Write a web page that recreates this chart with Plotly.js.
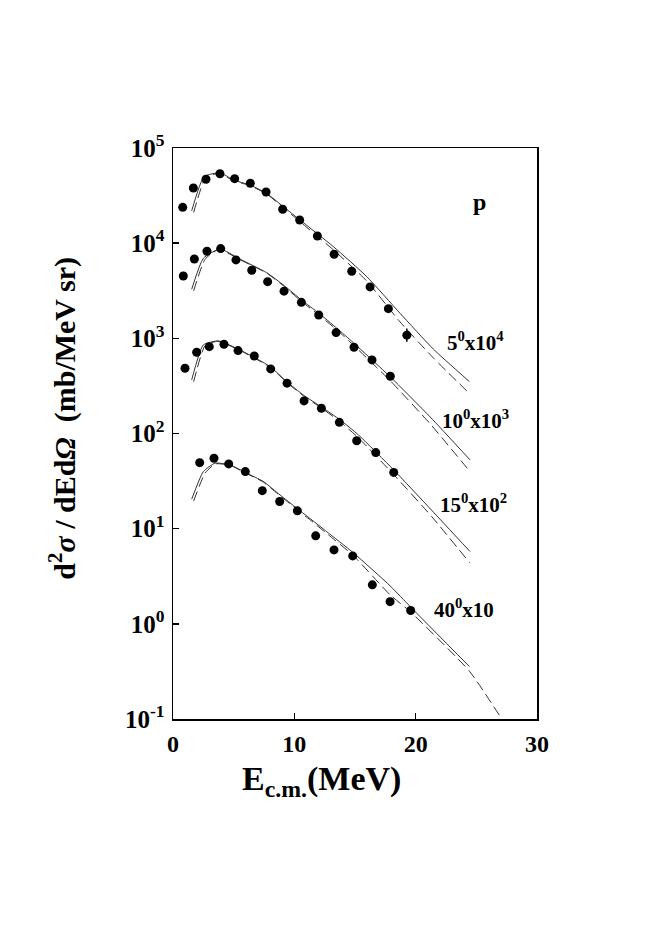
<!DOCTYPE html>
<html>
<head>
<meta charset="utf-8">
<script src="https://cdn.plot.ly/plotly-3.0.1.min.js"></script>
<style>
  html, body { margin: 0; padding: 0; background: #fff; }
  #chart { width: 654px; height: 941px; }
</style>
</head>
<body>
<div id="chart"></div>
<script>
// proton spectra, measured points (scaled per angle) and two model curves each

const E5 = [0.80, 1.68, 2.72, 3.87, 5.08, 6.37, 7.67, 9.04, 10.44, 11.90, 13.28, 14.73, 16.24, 17.75, 19.27];
const Y5 = [23800, 38000, 46900, 53700, 47600, 42600, 34500, 22700, 17500, 11900, 7640, 5070, 3470, 2050, 1080];
const ERR5_UP = [0, 0, 0, 0, 0, 0, 0, 0, 0, 0, 0, 0, 0, 0, 190];
const ERR5_DN = [0, 0, 0, 0, 0, 0, 0, 0, 0, 0, 0, 0, 0, 0, 160];

const E10 = [0.85, 1.76, 2.80, 3.93, 5.19, 6.49, 7.80, 9.15, 10.58, 12.01, 13.44, 14.92, 16.40, 17.91];
const Y10 = [4520, 6820, 8220, 8770, 6670, 5190, 3940, 3130, 2390, 1760, 1150, 805, 593, 400];

const E15 = [0.99, 1.95, 2.99, 4.20, 5.36, 6.70, 8.05, 9.40, 10.80, 12.23, 13.71, 15.14, 16.71, 18.19];
const Y15 = [485, 714, 818, 866, 743, 653, 477, 338, 220, 184, 131, 84, 63, 39];

const E40 = [2.20, 3.38, 4.59, 5.96, 7.36, 8.79, 10.25, 11.76, 13.27, 14.81, 16.43, 17.89, 19.59];
const Y40 = [49.4, 55, 47.9, 39.8, 25.1, 19.3, 15.4, 8.4, 5.98, 5.17, 2.57, 1.71, 1.38];

// solid model curves
const S5_E = [1.54, 2.56, 3.87, 4.97, 6.35, 7.72, 9.09, 10.47, 13.22, 15.97, 18.71, 21.46, 24.43];
const S5_Y = [21900, 50000, 55000, 46100, 40800, 33400, 24200, 17500, 9190, 4450, 1835, 770, 351];
const S10_E = [1.54, 2.50, 3.87, 5.52, 7.72, 9.17, 10.58, 12.01, 13.50, 14.86, 17.89, 21.20, 24.48];
const S10_Y = [3280, 6930, 8690, 6800, 4900, 3580, 2530, 1840, 1277, 900, 396, 149, 52.8];
const S15_E = [1.54, 2.50, 3.74, 5.52, 8.00, 9.37, 10.74, 12.26, 13.77, 15.28, 18.19, 21.30, 24.48];
const S15_Y = [366, 853, 940, 755, 505, 351, 254, 189, 139, 96.7, 41.4, 15.7, 5.75];
const S40_E = [1.54, 2.50, 3.46, 4.70, 6.08, 7.45, 8.82, 10.20, 11.57, 12.67, 14.87, 17.89, 19.59, 24.43];
const S40_Y = [20.4, 39.8, 48.8, 46.8, 38.3, 31.3, 22.6, 16.4, 12.0, 9.3, 5.57, 2.51, 1.5, 0.356];

// dashed model curves
const D5_E = [1.70, 2.70, 3.80, 4.97, 6.35, 7.72, 9.09, 10.47, 13.22, 15.97, 18.71, 21.46, 24.43];
const D5_Y = [21000, 49000, 54000, 45500, 40200, 32800, 23600, 16800, 8500, 4000, 1490, 622, 263];
const D10_E = [1.70, 2.65, 3.80, 5.52, 7.72, 9.17, 10.58, 12.01, 13.50, 14.86, 17.89, 21.20, 24.48];
const D10_Y = [3150, 6800, 8600, 6700, 4850, 3500, 2450, 1760, 1230, 850, 360, 126, 39.8];
const D15_E = [1.70, 2.65, 3.70, 5.52, 8.00, 9.37, 10.74, 12.26, 13.77, 15.28, 18.19, 21.30, 24.48];
const D15_Y = [350, 840, 930, 745, 498, 345, 249, 184, 133, 90, 37, 13.5, 4.34];
const D40_E = [1.70, 2.65, 3.50, 4.70, 6.08, 7.45, 8.82, 10.20, 11.57, 12.67, 14.87, 17.89, 19.59, 24.43, 27.10];
const D40_Y = [19.5, 38.5, 48, 46.3, 37.8, 30.8, 22.2, 16.0, 11.6, 8.9, 5.2, 2.02, 1.33, 0.318, 0.1];

const LABELS = ["5<sup>0</sup>x10<sup>4</sup>", "10<sup>0</sup>x10<sup>3</sup>", "15<sup>0</sup>x10<sup>2</sup>", "40<sup>0</sup>x10"];
const LABEL_X = [24.96, 24.9, 24.8, 24.0];
const LABEL_Y = [925, 139, 18.5, 1.46];

const Y_TICKS = [0.1, 1, 10, 100, 1000, 10000, 100000];
const Y_TICKTEXT = ["10<sup>-1</sup>", "10<sup>0</sup>", "10<sup>1</sup>", "10<sup>2</sup>", "10<sup>3</sup>", "10<sup>4</sup>", "10<sup>5</sup>"];
const X_TICKS = [0, 10, 20, 30];

const FONT = "'Liberation Serif', 'Times New Roman', serif";
const INK = "#000";
const CURVE = "#333";

function solid(x, y) {
  return {
    x, y, type: "scatter", mode: "lines",
    line: { color: CURVE, width: 1, shape: "spline", smoothing: 0.5 },
    hoverinfo: "skip", showlegend: false,
  };
}
function dashed(x, y) {
  return {
    x, y, type: "scatter", mode: "lines",
    line: { color: CURVE, width: 1, dash: "10px,5px", shape: "spline", smoothing: 0.5 },
    hoverinfo: "skip", showlegend: false,
  };
}
function dots(x, y, err) {
  const t = { x, y, type: "scatter", mode: "markers", marker: { color: INK, size: 9 }, showlegend: false };
  if (err) {
    t.error_y = { type: "data", symmetric: false, array: err[0], arrayminus: err[1], color: INK, thickness: 1.5, width: 0 };
  }
  return t;
}

const traces = [
  solid(S5_E, S5_Y), dashed(D5_E, D5_Y),
  solid(S10_E, S10_Y), dashed(D10_E, D10_Y),
  solid(S15_E, S15_Y), dashed(D15_E, D15_Y),
  solid(S40_E, S40_Y), dashed(D40_E, D40_Y),
  dots(E5, Y5, [ERR5_UP, ERR5_DN]),
  dots(E10, Y10),
  dots(E15, Y15),
  dots(E40, Y40),
];

const axisBase = {
  showgrid: false,
  zeroline: false,
  showline: true,
  linecolor: INK,
  linewidth: 1.5,
  mirror: true,
  ticks: "inside",
  ticklen: 6,
  tickwidth: 1.5,
  tickcolor: INK,
};

const annotations = LABELS.map((t, i) => ({
  x: LABEL_X[i],
  y: Math.log10(LABEL_Y[i]),
  xref: "x",
  yref: "y",
  text: t,
  showarrow: false,
  xanchor: "center",
  yanchor: "middle",
  font: { family: FONT, size: 21, color: INK, weight: "bold" },
}));

annotations.push({
  x: 25.3, y: 4.43, xref: "x", yref: "y",
  text: "p", showarrow: false, xanchor: "center", yanchor: "middle",
  font: { family: FONT, size: 24, color: INK, weight: "bold" },
});

// axis titles placed as paper annotations to match the offsets in the figure
annotations.push({
  x: -0.302, y: 0.526, xref: "paper", yref: "paper",
  text: "d<sup>2</sup><i>σ</i> / dEd<i>Ω</i> &nbsp;(mb/MeV sr)",
  textangle: -90, showarrow: false, xanchor: "center", yanchor: "middle",
  font: { family: FONT, size: 30, color: INK, weight: "bold" },
});
annotations.push({
  x: 0.409, y: -0.108, xref: "paper", yref: "paper",
  text: "E<sub>c.m.</sub>(MeV)",
  showarrow: false, xanchor: "center", yanchor: "middle",
  font: { family: FONT, size: 34, color: INK, weight: "bold" },
});

const layout = {
  width: 654,
  height: 941,
  margin: { l: 173, r: 117, t: 148, b: 222 },
  paper_bgcolor: "#fff",
  plot_bgcolor: "#fff",
  showlegend: false,
  xaxis: Object.assign({}, axisBase, {
    range: [0, 30],
    tickvals: X_TICKS,
    ticklabelstandoff: 3,
    tickfont: { family: FONT, size: 24, color: INK, weight: "bold" },
  }),
  yaxis: Object.assign({}, axisBase, {
    type: "log",
    range: [-1, 5],
    tickvals: Y_TICKS,
    ticktext: Y_TICKTEXT,
    ticklabelstandoff: 2,
    tickfont: { family: FONT, size: 25, color: INK, weight: "bold" },
  }),
  annotations,
};

Plotly.newPlot("chart", traces, layout, { staticPlot: true, displayModeBar: false });
</script>
</body>
</html>
